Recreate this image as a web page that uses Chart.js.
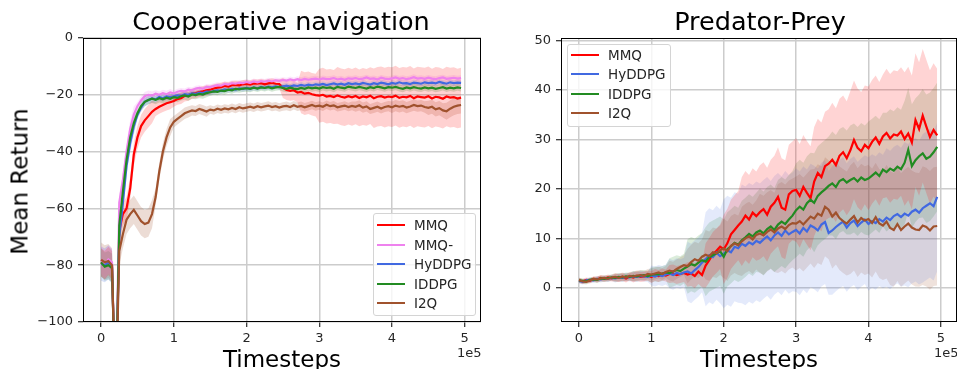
<!DOCTYPE html>
<html>
<head>
<meta charset="utf-8">
<script src="https://cdn.jsdelivr.net/npm/chart.js@4.4.1/dist/chart.umd.min.js"></script>
<style>
  body { margin: 0; background: #fff; overflow: hidden; }
  #wrap { position: relative; width: 957px; height: 369px; font-family: "DejaVu Sans", sans-serif; }
  canvas { position: absolute; top: 0; }
  .txt { position: absolute; white-space: nowrap; color: #000; line-height: 1; }
  .title { font-size: 25.5px; width: 400px; text-align: center; }
  .axlab { font-size: 23px; width: 300px; text-align: center; }
  .off { font-size: 13px; color: #262626; }
  .legend { position: absolute; background: rgba(255,255,255,0.8); border: 1px solid #d4d4d4; border-radius: 3px; box-sizing: border-box; }
  .legend .sw { position: absolute; height: 2px; }
  .legend .lb { position: absolute; font-size: 13.5px; color: #262626; line-height: 14px; }
</style>
</head>
<body>
<div id="wrap">
  <canvas id="canvas" width="490" height="369" style="left:0px"></canvas>
  <canvas id="canvas2" width="467" height="369" style="left:490px"></canvas>

  <div class="txt title" style="left:81px; top:9px;">Cooperative navigation</div>
  <div class="txt title" style="left:560px; top:9px;">Predator-Prey</div>
  <div class="txt axlab" style="left:132px; top:348px;">Timesteps</div>
  <div class="txt axlab" style="left:609px; top:348px;">Timesteps</div>
  <div class="txt axlab" style="left:-130px; top:170px; width:300px; transform: rotate(-90deg);">Mean Return</div>
  <div class="txt off" style="left:457px; top:346px;">1e5</div>
  <div class="txt off" style="left:934px; top:346px;">1e5</div>

  <div id="legend1" class="legend" style="left:373px; top:213px; width:103px; height:103px;"></div>
  <div id="legend2" class="legend" style="left:567px; top:44px; width:104px; height:83px;"></div>
</div>

<script>
/* timesteps: one point every 5000 steps */
var steps = [];
for (var i = 0; i < 100; i++) {
    steps.push(i * 5000);
}

var xTicks = [0, 1, 2, 3, 4, 5];
var navTicks = [-100, -80, -60, -40, -20, 0];
var preyTicks = [0, 10, 20, 30, 40, 50];

/* Cooperative navigation: mean return */
var navMMQ = [
    -79, -80, -78.5, -80, -130, -68, -62, -60, -53, -41,
    -35, -31, -29, -27.5, -26, -25, -24.2, -23.6, -23, -22.6,
    -22.2, -21.5, -21.2, -20.4, -20.1, -19.6, -19.4, -19, -18.8, -18.4,
    -18.2, -17.8, -17.5, -17.3, -16.9, -17.1, -16.6, -16.5, -16.7, -16.3,
    -16.2, -16.4, -16, -16.1, -15.9, -16.3, -16, -15.8, -16.1, -16.2,
    -17.6, -18.3, -18.6, -18.4, -19.2, -19, -19.6, -19.3, -19.8, -20.1,
    -20.3, -20, -20.6, -20.4, -20.8, -20.2, -20.7, -21, -20.5, -20.9,
    -20.4, -21.1, -20.6, -20.9, -20.3, -21.2, -20.7, -20.5, -21, -20.6,
    -20.8, -20.3, -21.1, -20.7, -20.9, -20.4, -21.2, -20.6, -20.8, -21,
    -20.5, -21.3, -20.7, -20.9, -21.4, -20.6, -21, -20.8, -21.3, -21
];
var navMMQm = [
    -78, -79.5, -78, -79, -130, -58, -50, -40, -32, -27,
    -24, -22, -20.5, -20, -20.3, -19.6, -20, -19.4, -19.8, -19.2,
    -19.5, -18.9, -18.6, -18.8, -18.2, -18.4, -17.8, -17.6, -17.9, -17.2,
    -17.3, -16.9, -16.6, -16.8, -16.2, -16.4, -15.9, -16.1, -15.7, -15.9,
    -15.5, -15.8, -15.3, -15.6, -15.2, -15.4, -15, -15.3, -14.9, -15.1,
    -14.8, -15, -14.6, -14.9, -14.5, -14.8, -14.4, -14.7, -14.5, -14.3,
    -14.6, -14.2, -14.5, -14.4, -14.1, -14.6, -14.3, -14.7, -14.2, -14.4,
    -14.1, -14.5, -14.3, -13.9, -14.4, -14.2, -14.6, -14, -14.3, -14.5,
    -14.2, -13.9, -14.4, -14.1, -14.5, -14.2, -13.8, -14.3, -14.1, -14.4,
    -14, -14.3, -14.5, -14.1, -13.9, -14.4, -14.2, -14, -14.3, -14.1
];
var navHyDDPG = [
    -79.5, -80, -79, -80.5, -130, -70, -58, -45, -37, -31,
    -27, -24.5, -22.5, -21.8, -21.3, -21.6, -20.8, -21.2, -20.6, -20.9,
    -20.5, -20.2, -20.4, -19.8, -20, -19.5, -19.7, -19.2, -19.4, -18.9,
    -19, -18.7, -18.4, -18.6, -18.1, -18.3, -17.9, -18.2, -17.7, -17.9,
    -17.6, -17.8, -17.4, -17.7, -17.2, -17.5, -17.1, -17.4, -17, -17.3,
    -17, -16.8, -17.1, -16.7, -16.9, -16.5, -16.8, -16.4, -16.7, -16.3,
    -16.5, -16.2, -16.6, -16.3, -16, -16.4, -16.1, -16.5, -15.9, -16.2,
    -16, -16.3, -15.8, -16.1, -16.4, -15.9, -16.2, -15.7, -16, -16.3,
    -15.8, -16.1, -15.6, -16, -15.9, -16.2, -15.7, -15.9, -16.1, -15.6,
    -15.9, -15.7, -16, -15.5, -15.8, -16.1, -15.6, -15.9, -15.7, -15.8
];
var navIDDPG = [
    -79, -80.5, -80, -81, -130, -66, -54, -43, -35, -30,
    -26.5, -24, -22.5, -21.8, -21.4, -21.8, -21.2, -21.6, -21, -21.4,
    -20.8, -21.1, -20.5, -20.2, -20.6, -19.9, -20.1, -19.7, -19.9, -19.4,
    -19.1, -18.8, -19, -18.5, -18.7, -18.2, -18.4, -17.9, -18.1, -17.8,
    -17.7, -17.9, -17.5, -17.8, -17.4, -17.6, -17.3, -17.7, -17.4, -17.2,
    -17.6, -17.9, -17.5, -17.8, -18, -17.6, -17.9, -17.4, -17.7, -17.5,
    -17.8, -17.3, -17.6, -17.4, -17.9, -17.2, -17.5, -17.7, -17.1, -17.4,
    -17.6, -17.2, -17.5, -17.8, -17.3, -17.6, -17.1, -17.4, -17.7, -17.3,
    -17.5, -17.2, -17.6, -17.9, -17.4, -17.7, -17.3, -17.6, -17.8, -17.4,
    -17.7, -17.5, -17.9, -17.6, -17.3, -17.8, -17.5, -17.7, -17.4, -17.6
];
var navI2Q = [
    -78, -79, -78.5, -80, -130, -75, -69, -64, -62, -60.5,
    -62.5, -64.5, -65.5, -65, -62, -56, -47, -40, -35, -31.5,
    -29.5, -28.5, -27.5, -26.5, -26, -25.5, -25.7, -25, -25.4, -25.9,
    -25.2, -25.5, -24.9, -25.3, -24.8, -25.1, -24.6, -25, -24.4, -24.8,
    -24.5, -24.2, -24.6, -24, -24.4, -24.1, -23.8, -24.3, -24, -24.5,
    -24.1, -23.9, -24.3, -23.7, -24.2, -23.9, -24.4, -24, -23.6, -24.1,
    -23.8, -24.2, -23.5, -24, -23.7, -24.4, -24.1, -23.8, -24.3, -23.9,
    -24.2, -23.7, -24.5, -24.1, -25, -24.6, -24.2, -24.8, -24.3, -24,
    -24.4, -23.8, -24.2, -23.9, -24.5, -24.1, -23.6, -24, -23.8, -24.3,
    -24.6, -24.2, -25.1, -24.7, -25.5, -25.8, -24.9, -24.2, -23.8, -23.6
];

/* Cooperative navigation: half width of the shaded band, one value per 25000 steps */
var navMMQSpread = [5, 4, 4, 2.5, 2, 1.8, 1.5, 1.5, 1.5, 1.6, 3.5, 7.5, 9.5, 10, 10, 10.5, 10.5, 10.5, 10.5, 10.5];
var navMMQmSpread = [5, 3, 1.5, 1.2, 1, 1, 1, 1, 1, 1, 1, 1, 1, 1, 1, 1, 1, 1, 1, 1];
var navHyDDPGSpread = [6, 3, 1.5, 1.2, 1, 1, 1, 1, 1, 1, 1, 1, 1, 1, 1, 1, 1, 1, 1, 1];
var navIDDPGSpread = [5, 3, 1.5, 1.5, 1.5, 1.5, 1.2, 1.2, 1.2, 1.2, 1.2, 1.2, 1.2, 1.2, 1.2, 1.2, 1.2, 1.2, 1.2, 1.2];
var navI2QSpread = [6, 5, 5, 3, 2, 1.8, 1.5, 1.5, 1.5, 1.5, 1.5, 1.5, 1.5, 1.5, 1.8, 1.8, 2, 2, 2.5, 3];

/* Predator-Prey: mean return */
var preyMMQ = [
    1.5, 1.3, 1.6, 1.4, 1.8, 1.7, 2, 1.8, 2.1, 1.9,
    2.1, 2, 2.2, 1.9, 2.3, 2.1, 2.4, 2.2, 2.3, 2.5,
    2.2, 2.6, 2.4, 2.7, 2.5, 2.8, 2.9, 2.6, 2.8, 3,
    2.7, 2.9, 2.4, 3.3, 2.6, 4.5, 5.6, 6.8, 7.5, 8.3,
    7.8, 9, 10.8, 11.7, 12.6, 13.4, 14.6, 13.8, 15.2, 14.5,
    15.3, 15.9, 14.8, 16.4, 17.2, 18.4, 16.2, 15.8, 18.9, 19.6,
    19.8, 18.6, 20.4, 19.2, 18.1, 21.5, 23.2, 22.4, 24.6, 25.1,
    25.9, 24.8, 26.7, 27.4, 26.2, 27.8, 29.9, 28.3, 27.6, 28.9,
    28.2, 29.5, 30.4, 29.1, 30.6, 31.3, 30.2, 31, 30.8, 31.6,
    30.1, 31.2, 29.4, 33.9, 32.1, 34.8, 32.6, 30.5, 31.9, 30.8
];
var preyHyDDPG = [
    1.4, 1.2, 1.5, 1.6, 1.5, 1.8, 1.7, 1.9, 1.8, 2,
    1.9, 2.1, 2, 2.2, 2.1, 2.3, 2.2, 2.4, 2.3, 2.2,
    2.5, 2.3, 2.6, 2.4, 2.7, 2.9, 2.6, 3, 2.8, 3.1,
    3.3, 2.9, 3.6, 4.2, 5.1, 5.8, 6.6, 6.2, 7.1, 6.4,
    6.9, 7.6, 7.2, 8.3, 8, 8.9, 8.5, 9.2, 8.8, 9.5,
    9.1, 9.8, 10.4, 9.6, 10.6, 11.2, 10.5, 11.6, 10.8, 11.3,
    11.7, 11, 12.1, 11.4, 12.6, 12.2, 11.6, 12.8, 13.3, 11.1,
    11.6, 12.3, 12.9, 13.4, 12.2, 13.1, 13.6, 12.5, 13.2, 13.8,
    12.9, 13.5, 13.1, 13.9, 13.4, 14.2, 13.7, 14.5, 14.9, 14.3,
    15, 14.6, 15.4, 15.8, 15.2, 16.1, 16.6, 17.1, 16.5, 18.4
];
var preyIDDPG = [
    1.5, 1.4, 1.3, 1.6, 1.7, 1.6, 1.9, 1.8, 2, 2.1,
    2, 2.2, 2.1, 2.3, 2.2, 2.4, 2.3, 2.5, 2.6, 2.4,
    2.6, 2.8, 2.7, 2.9, 3.1, 3, 3.3, 3.6, 3.4, 3.9,
    4.3, 4.8, 4.5, 5.1, 5.6, 5.3, 6.2, 6.6, 7, 7.4,
    6.3, 7.8, 8.4, 9.1, 8.7, 9.6, 10.2, 10.9, 10.4, 11.2,
    11.6, 11, 11.9, 12.4, 11.7, 12.8, 13.4, 12.9, 13.8, 14.6,
    15.7, 16.4, 15.8, 17.1, 17.8, 17.2, 18.6, 19.3, 19.9, 20.6,
    21.1, 20.4, 21.6, 22, 21.3, 21.8, 22.2, 21.5, 22.3, 21.8,
    22.1, 22.7, 23.3, 22.6, 23.9, 23.4, 24.1, 23.7, 24.5, 24,
    25.3, 27.9, 24.6, 25.8, 26.6, 27.2, 26.1, 26.5, 27.4, 28.5
];
var preyI2Q = [
    1.6, 1.3, 1.2, 1.5, 1.8, 1.7, 1.9, 2, 1.8, 2.1,
    2.2, 2, 2.3, 2.1, 2.4, 2.3, 2.5, 2.6, 2.4, 2.8,
    2.7, 2.9, 3.1, 2.8, 3.2, 3.5, 3.3, 3.8, 4.2, 4.6,
    4.4, 5.2, 5.8, 5.5, 6.3, 6.7, 6.4, 7.2, 7, 7.6,
    8, 7.4, 8.5, 9, 8.6, 9.4, 10, 10.4, 9.8, 10.7,
    11, 10.6, 11.3, 11.8, 11.2, 12, 12.4, 11.9, 12.7, 13.1,
    13, 13.5, 12.8, 13.6, 14.4, 14, 15, 14.6, 16.4, 15.8,
    14.4, 15.2, 14.1, 13.5, 13, 13.8, 14.5, 13.2, 14.1, 13.6,
    13.9, 13.1, 14.3, 13, 12.6, 13.4, 12.1, 11.7, 12.9, 11.7,
    12.4, 13, 12.2, 11.8, 11.7, 12.6, 12.3, 11.6, 12.4, 12.5
];

/* Predator-Prey: half width of the shaded band, one value per 25000 steps */
var preyMMQSpread = [0.5, 0.6, 0.8, 1, 1.2, 1.8, 2.5, 4.5, 7, 9, 9.5, 10, 10.5, 11, 11.5, 12, 12.5, 13, 13.5, 13.5];
var preyHyDDPGSpread = [0.5, 0.6, 0.8, 1, 2, 3, 6, 9.5, 11, 12, 12, 12, 12.5, 12.5, 13, 13, 13.5, 14, 14.5, 15];
var preyIDDPGSpread = [0.5, 0.6, 0.8, 1, 1.5, 3, 5.5, 7, 7.5, 8, 8.5, 9, 9.5, 10, 10.5, 11, 11.5, 12, 12.5, 13];
var preyI2QSpread = [0.5, 0.6, 0.8, 1, 1.2, 2, 3.5, 5, 6, 7, 8, 9, 9.5, 10, 10.5, 11, 11, 11.5, 11.5, 12];

var navNames = ["MMQ", "MMQ-", "HyDDPG", "IDDPG", "I2Q"];
var navColors = ["#ff0000", "#ee82ee", "#4169e1", "#228b22", "#a0522d"];
var navBands = ["rgba(255,0,0,0.18)", "rgba(238,130,238,0.2)", "rgba(65,105,225,0.2)", "rgba(34,139,34,0.2)", "rgba(160,82,45,0.2)"];
var preyNames = ["MMQ", "HyDDPG", "IDDPG", "I2Q"];
var preyColors = ["#ff0000", "#4169e1", "#228b22", "#a0522d"];
var preyBands = ["rgba(255,0,0,0.17)", "rgba(65,105,225,0.14)", "rgba(34,139,34,0.16)", "rgba(160,82,45,0.17)"];

function points(mean) {
    var out = [];
    for (var i = 0; i < steps.length; i++) {
        out.push({x: steps[i], y: mean[i]});
    }
    return out;
}

function bandPoints(mean, spread, sign) {
    var out = [];
    for (var i = 0; i < steps.length; i++) {
        out.push({x: steps[i], y: mean[i] + sign * spread[Math.floor(i / 5)]});
    }
    return out;
}

function buildDatasets(names, colors, bands, means, spreads) {
    var sets = [];
    for (var k = 0; k < names.length; k++) {
        sets.push({
            label: names[k] + " band",
            data: bandPoints(means[k], spreads[k], 1),
            borderWidth: 0,
            pointRadius: 0,
            backgroundColor: bands[k],
            fill: '+1',
            order: 100 + k
        });
        sets.push({
            label: names[k] + " low",
            data: bandPoints(means[k], spreads[k], -1),
            borderWidth: 0,
            pointRadius: 0,
            fill: false,
            order: 100 + k
        });
    }
    for (var k = 0; k < names.length; k++) {
        sets.push({
            label: names[k],
            data: points(means[k]),
            borderColor: colors[k],
            borderWidth: 2.2,
            pointRadius: 0,
            tension: 0,
            fill: false,
            order: names.length - k
        });
    }
    return sets;
}

/* black box around the plot area */
var framePlugin = {
    id: 'frame',
    afterDraw: function (chart) {
        var a = chart.chartArea;
        var c = chart.ctx;
        c.save();
        c.strokeStyle = "#000";
        c.lineWidth = 1;
        c.strokeRect(Math.round(a.left) + 0.5, Math.round(a.top) + 0.5, Math.round(a.right - a.left) - 1, Math.round(a.bottom - a.top) - 1);
        c.restore();
    }
};

function makeOptions(yMin, yMax, yTicks, yWidth, padRight) {
    return {
        animation: false,
        responsive: false,
        devicePixelRatio: 1,
        layout: {padding: {left: 0, right: padRight, top: 38, bottom: 0}},
        plugins: {legend: {display: false}, tooltip: {enabled: false}},
        scales: {
            x: {
                type: 'linear',
                min: -24875,
                max: 522375,
                afterBuildTicks: function (s) {
                    s.ticks = xTicks.map(function (v) { return {value: v * 100000}; });
                },
                afterFit: function (s) { s.height = 47; },
                grid: {color: "#cccccc", lineWidth: 1.5, tickColor: "#000", tickLength: 5, tickWidth: 1},
                border: {display: false},
                ticks: {
                    autoSkip: false, maxRotation: 0, padding: 4, color: "#262626",
                    font: {family: "DejaVu Sans", size: 13},
                    callback: function (v) { return String(v / 100000); }
                }
            },
            y: {
                type: 'linear',
                min: yMin,
                max: yMax,
                afterBuildTicks: function (s) {
                    s.ticks = yTicks.map(function (v) { return {value: v}; });
                },
                afterFit: function (s) { s.width = yWidth; },
                grid: {color: "#cccccc", lineWidth: 1.5, tickColor: "#000", tickLength: 5, tickWidth: 1},
                border: {display: false},
                ticks: {
                    autoSkip: false, padding: 5, color: "#262626",
                    font: {family: "DejaVu Sans", size: 13},
                    callback: function (v) { return String(v).replace("-", "\u2212"); }
                }
            }
        }
    };
}

var ctx = document.getElementById("canvas").getContext("2d");
var canvas = new Chart(ctx, {
    type: 'line',
    data: {
        datasets: buildDatasets(navNames, navColors, navBands,
            [navMMQ, navMMQm, navHyDDPG, navIDDPG, navI2Q],
            [navMMQSpread, navMMQmSpread, navHyDDPGSpread, navIDDPGSpread, navI2QSpread])
    },
    options: makeOptions(-100, 0, navTicks, 83, 9),
    plugins: [framePlugin]
});

var ctx2 = document.getElementById("canvas2").getContext("2d");
var canvas2 = new Chart(ctx2, {
    type: 'line',
    data: {
        datasets: buildDatasets(preyNames, preyColors, preyBands,
            [preyMMQ, preyHyDDPG, preyIDDPG, preyI2Q],
            [preyMMQSpread, preyHyDDPGSpread, preyIDDPGSpread, preyI2QSpread])
    },
    options: makeOptions(-6.9, 50.5, preyTicks, 71, 0),
    plugins: [framePlugin]
});

/* legends */
function buildLegend(id, names, colors, firstRow) {
    var box = document.getElementById(id);
    for (var i = 0; i < names.length; i++) {
        var cy = firstRow + i * 19.6;
        var sw = document.createElement("div");
        sw.className = "sw";
        sw.style.left = "3px";
        sw.style.width = "28px";
        sw.style.top = (cy - 1) + "px";
        sw.style.background = colors[i];
        box.appendChild(sw);
        var lb = document.createElement("div");
        lb.className = "lb";
        lb.style.left = "40px";
        lb.style.top = (cy - 7) + "px";
        lb.textContent = names[i];
        box.appendChild(lb);
    }
}
buildLegend("legend1", navNames, navColors, 11);
buildLegend("legend2", preyNames, preyColors, 9.5);
</script>
</body>
</html>
